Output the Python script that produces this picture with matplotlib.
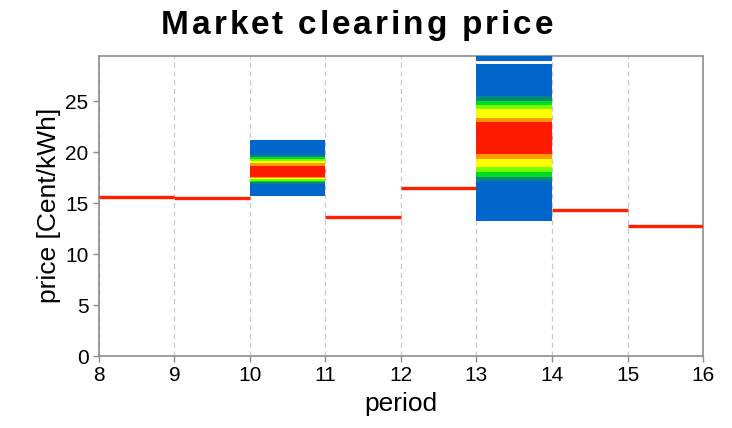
import numpy as np
import matplotlib
matplotlib.use("Agg")
import matplotlib.pyplot as plt
from matplotlib.font_manager import FontProperties

plt.rcParams['font.family'] = ['Liberation Sans', 'DejaVu Sans']

# Market clearing price per period (period start -> price in Cent/kWh)
periods = [8, 9, 10, 11, 12, 13, 14, 15]
clearing_price = [15.65, 15.55, 18.2, 13.65, 16.55, 21.4, 14.35, 12.8]

# Price distribution bands for the uncertain periods, outer -> inner
band_colors = ["#0066cc", "#00897b", "#00dd22", "#77ff00", "#ffff00", "#ff9900", "#ff1a00"]
band_periods = [10, 13]
band_low = [
    [15.68, 16.90, 17.06, 17.20, 17.34, 17.53, 17.63],
    [13.27, 17.20, 17.63, 18.12, 18.52, 19.37, 19.83],
]
band_high = [
    [21.24, 19.70, 19.50, 19.34, 19.17, 18.98, 18.70],
    [28.71, 25.50, 25.07, 24.68, 24.26, 23.37, 22.94],
]
# upper tail segment above the main distribution (period 13)
tail_period = [13]
tail_low = [28.94]
tail_high = [31.0]

title = "Market clearing price"

W, H = 732, 428
fig = plt.figure(figsize=(W / 100, H / 100), dpi=100)
ax = fig.add_axes([0.1352, 0.168, 0.8252, 0.702])

# clearing price steps
ax.hlines(clearing_price, periods, np.array(periods) + 1, colors="#ff2000",
          linewidth=2.4, zorder=3, capstyle="butt")

# distribution blocks
for p, lows, highs in zip(band_periods, band_low, band_high):
    for lo, hi, c in zip(lows, highs, band_colors):
        ax.bar(p, hi - lo, bottom=lo, width=1, align="edge", color=c,
               linewidth=0, zorder=4)
for p, lo, hi in zip(tail_period, tail_low, tail_high):
    ax.bar(p, hi - lo, bottom=lo, width=1, align="edge", color=band_colors[0],
           linewidth=0, zorder=4)

ax.set_xlim(8, 16)
ax.set_ylim(0, 29.5)
ax.set_xticks(range(8, 17))
ax.set_yticks(range(0, 30, 5))
ax.grid(axis="x", color="#c8c8c8", linestyle=(0, (4, 3)), linewidth=0.9, zorder=1)
ax.set_axisbelow(True)

for s in ax.spines.values():
    s.set_color("#8c8c8c")
    s.set_linewidth(1.2)
ax.tick_params(axis="both", colors="#8c8c8c", labelcolor="black", labelsize=15,
               length=4, width=1, direction="out")
ax.tick_params(axis="x", pad=3)

ax.set_xlabel("period", fontsize=19, labelpad=5)
ax.set_ylabel("price [Cent/kWh]", fontsize=19, labelpad=3)

# letter-spaced bold title
prop = FontProperties(family=['Liberation Sans', 'DejaVu Sans'], weight='bold', size=24)
renderer = fig.canvas.get_renderer()
def text_width(s):
    w, _, _ = renderer.get_text_width_height_descent(s, prop, ismath=False)
    return w
x_left = 161.0
x_right = 553.0
spacing = (x_right - x_left - text_width(title)) / (len(title) - 1)
baseline = H - 34.0
for i, ch in enumerate(title):
    x = x_left + (text_width(title[:i]) if i else 0.0) + i * spacing
    fig.text(x / W, baseline / H, ch, ha="left", va="baseline",
             fontproperties=prop)

fig.savefig("out.png", dpi=100)
